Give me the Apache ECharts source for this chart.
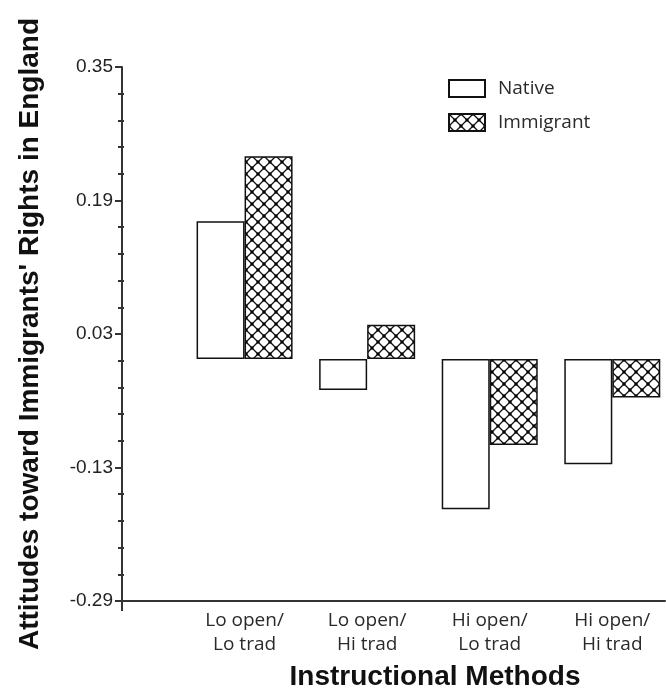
<!DOCTYPE html>
<html>
<head>
<meta charset="utf-8">
<title>Attitudes toward Immigrants' Rights in England</title>
<script src="https://cdn.jsdelivr.net/npm/echarts@6/dist/echarts.min.js"></script>
<style>
  html, body { margin: 0; padding: 0; background: #fff; }
  #chart { width: 666px; height: 692px; }
</style>
</head>
<body>
<div id="chart"></div>
<script>
// Instructional method groups (two-line labels)
const categories = ['Lo open/\nLo trad', 'Lo open/\nHi trad', 'Hi open/\nLo trad', 'Hi open/\nHi trad'];
// Mean attitude scores by student background
const nativeValues = [0.165, -0.037, -0.180, -0.126];
const immigrantValues = [0.243, 0.041, -0.103, -0.046];
const seriesNames = ['Native', 'Immigrant'];
// Labelled ticks on the vertical axis
const yTickLabels = [-0.29, -0.13, 0.03, 0.19, 0.35];
const yMin = -0.29, yMax = 0.35;

// Minor ticks: five subdivisions between labelled ticks
const yMinorTicks = [];
for (let i = 0; i < yTickLabels.length - 1; i++) {
  const step = (yTickLabels[i + 1] - yTickLabels[i]) / 5;
  for (let k = 1; k < 5; k++) yMinorTicks.push(+(yTickLabels[i] + k * step).toFixed(4));
}

// Groups sit at positions 1..n along a numeric base axis
const toPairs = vals => vals.map((v, i) => [i + 1, v]);

// Cross-hatch fill (diamond lattice with dark joints)
function crossHatch() {
  const s = 12;
  const c = document.createElement('canvas');
  c.width = s; c.height = s;
  const g = c.getContext('2d');
  g.fillStyle = '#ffffff';
  g.fillRect(0, 0, s, s);
  g.strokeStyle = '#111';
  g.lineWidth = 1.3;
  g.beginPath();
  g.moveTo(0, 0); g.lineTo(s, s);
  g.moveTo(s, 0); g.lineTo(0, s);
  g.stroke();
  g.fillStyle = '#000';
  g.fillRect(s / 2 - 1.5, s / 2 - 1.5, 3, 3);
  g.fillRect(0, 0, 1.5, 1.5); g.fillRect(s - 1.5, 0, 1.5, 1.5);
  g.fillRect(0, s - 1.5, 1.5, 1.5); g.fillRect(s - 1.5, s - 1.5, 1.5, 1.5);
  return c;
}

const chart = echarts.init(document.getElementById('chart'), null, { renderer: 'canvas' });

const axisColor = '#333';
const labelFont = '"Open Sans", "Noto Sans", sans-serif';
const titleFont = '"Liberation Sans", Arial, sans-serif';

chart.setOption({
  animation: false,
  backgroundColor: '#ffffff',
  title: {
    text: 'Instructional Methods',
    left: 430,
    top: 658,
    textAlign: 'center',
    textStyle: { fontFamily: titleFont, fontSize: 28, fontWeight: 'bold', color: '#111' }
  },
  legend: {
    data: seriesNames,
    orient: 'vertical',
    left: 443,
    top: 74,
    itemWidth: 36,
    itemHeight: 17,
    itemGap: 15,
    icon: 'rect',
    textStyle: { fontFamily: labelFont, fontSize: 19, color: '#2a2a2a', padding: [0, 0, 0, 8] }
  },
  grid: { left: 122, right: 1, top: 67, bottom: 91, containLabel: false, outerBoundsMode: 'none' },
  xAxis: {
    type: 'value',
    min: 0,
    max: 4.43,
    interval: 1,
    splitLine: { show: false },
    axisLine: { show: true, onZero: false, lineStyle: { color: axisColor, width: 2 } },
    axisTick: { show: true, customValues: [0], length: 10, lineStyle: { color: axisColor, width: 2 } },
    axisLabel: {
      customValues: [1, 2, 3, 4],
      formatter: v => categories[Math.round(v) - 1] || '',
      fontFamily: labelFont,
      fontSize: 19,
      lineHeight: 24,
      color: '#2a2a2a',
      margin: 8
    }
  },
  yAxis: [
    {
      type: 'value',
      min: yMin,
      max: yMax,
      position: 'left',
      splitLine: { show: false },
      name: 'Attitudes toward Immigrants\' Rights in England',
      nameLocation: 'middle',
      nameRotate: 90,
      nameGap: 78,
      nameTextStyle: { fontFamily: titleFont, fontSize: 28, fontWeight: 'bold', color: '#111' },
      axisLine: { show: true, onZero: false, lineStyle: { color: axisColor, width: 2 } },
      axisTick: { show: true, customValues: yTickLabels, length: 7, lineStyle: { color: axisColor, width: 2 } },
      axisLabel: {
        customValues: yTickLabels,
        formatter: v => v.toFixed(2),
        fontFamily: titleFont,
        fontSize: 19,
        color: '#222',
        margin: 9
      }
    },
    {
      type: 'value',
      min: yMin,
      max: yMax,
      position: 'left',
      splitLine: { show: false },
      axisLine: { show: false },
      axisLabel: { show: false },
      axisTick: { show: true, customValues: yMinorTicks, length: 4, lineStyle: { color: axisColor, width: 2 } }
    },
    {
      type: 'value',
      min: yMin,
      max: yMax,
      position: 'left',
      splitLine: { show: false },
      axisLine: { show: false },
      axisLabel: { show: false },
      axisTick: { show: true, inside: true, customValues: yMinorTicks, length: 2, lineStyle: { color: axisColor, width: 2 } }
    }
  ],
  series: [
    {
      name: seriesNames[0],
      type: 'bar',
      data: toPairs(nativeValues),
      barWidth: 48,
      barGap: '0%',
      itemStyle: { color: '#ffffff', borderColor: '#111', borderWidth: 1.5 }
    },
    {
      name: seriesNames[1],
      type: 'bar',
      data: toPairs(immigrantValues),
      barWidth: 48,
      barGap: '0%',
      itemStyle: {
        color: { image: crossHatch(), repeat: 'repeat' },
        borderColor: '#111',
        borderWidth: 1.5
      }
    }
  ]
});
</script>
</body>
</html>
